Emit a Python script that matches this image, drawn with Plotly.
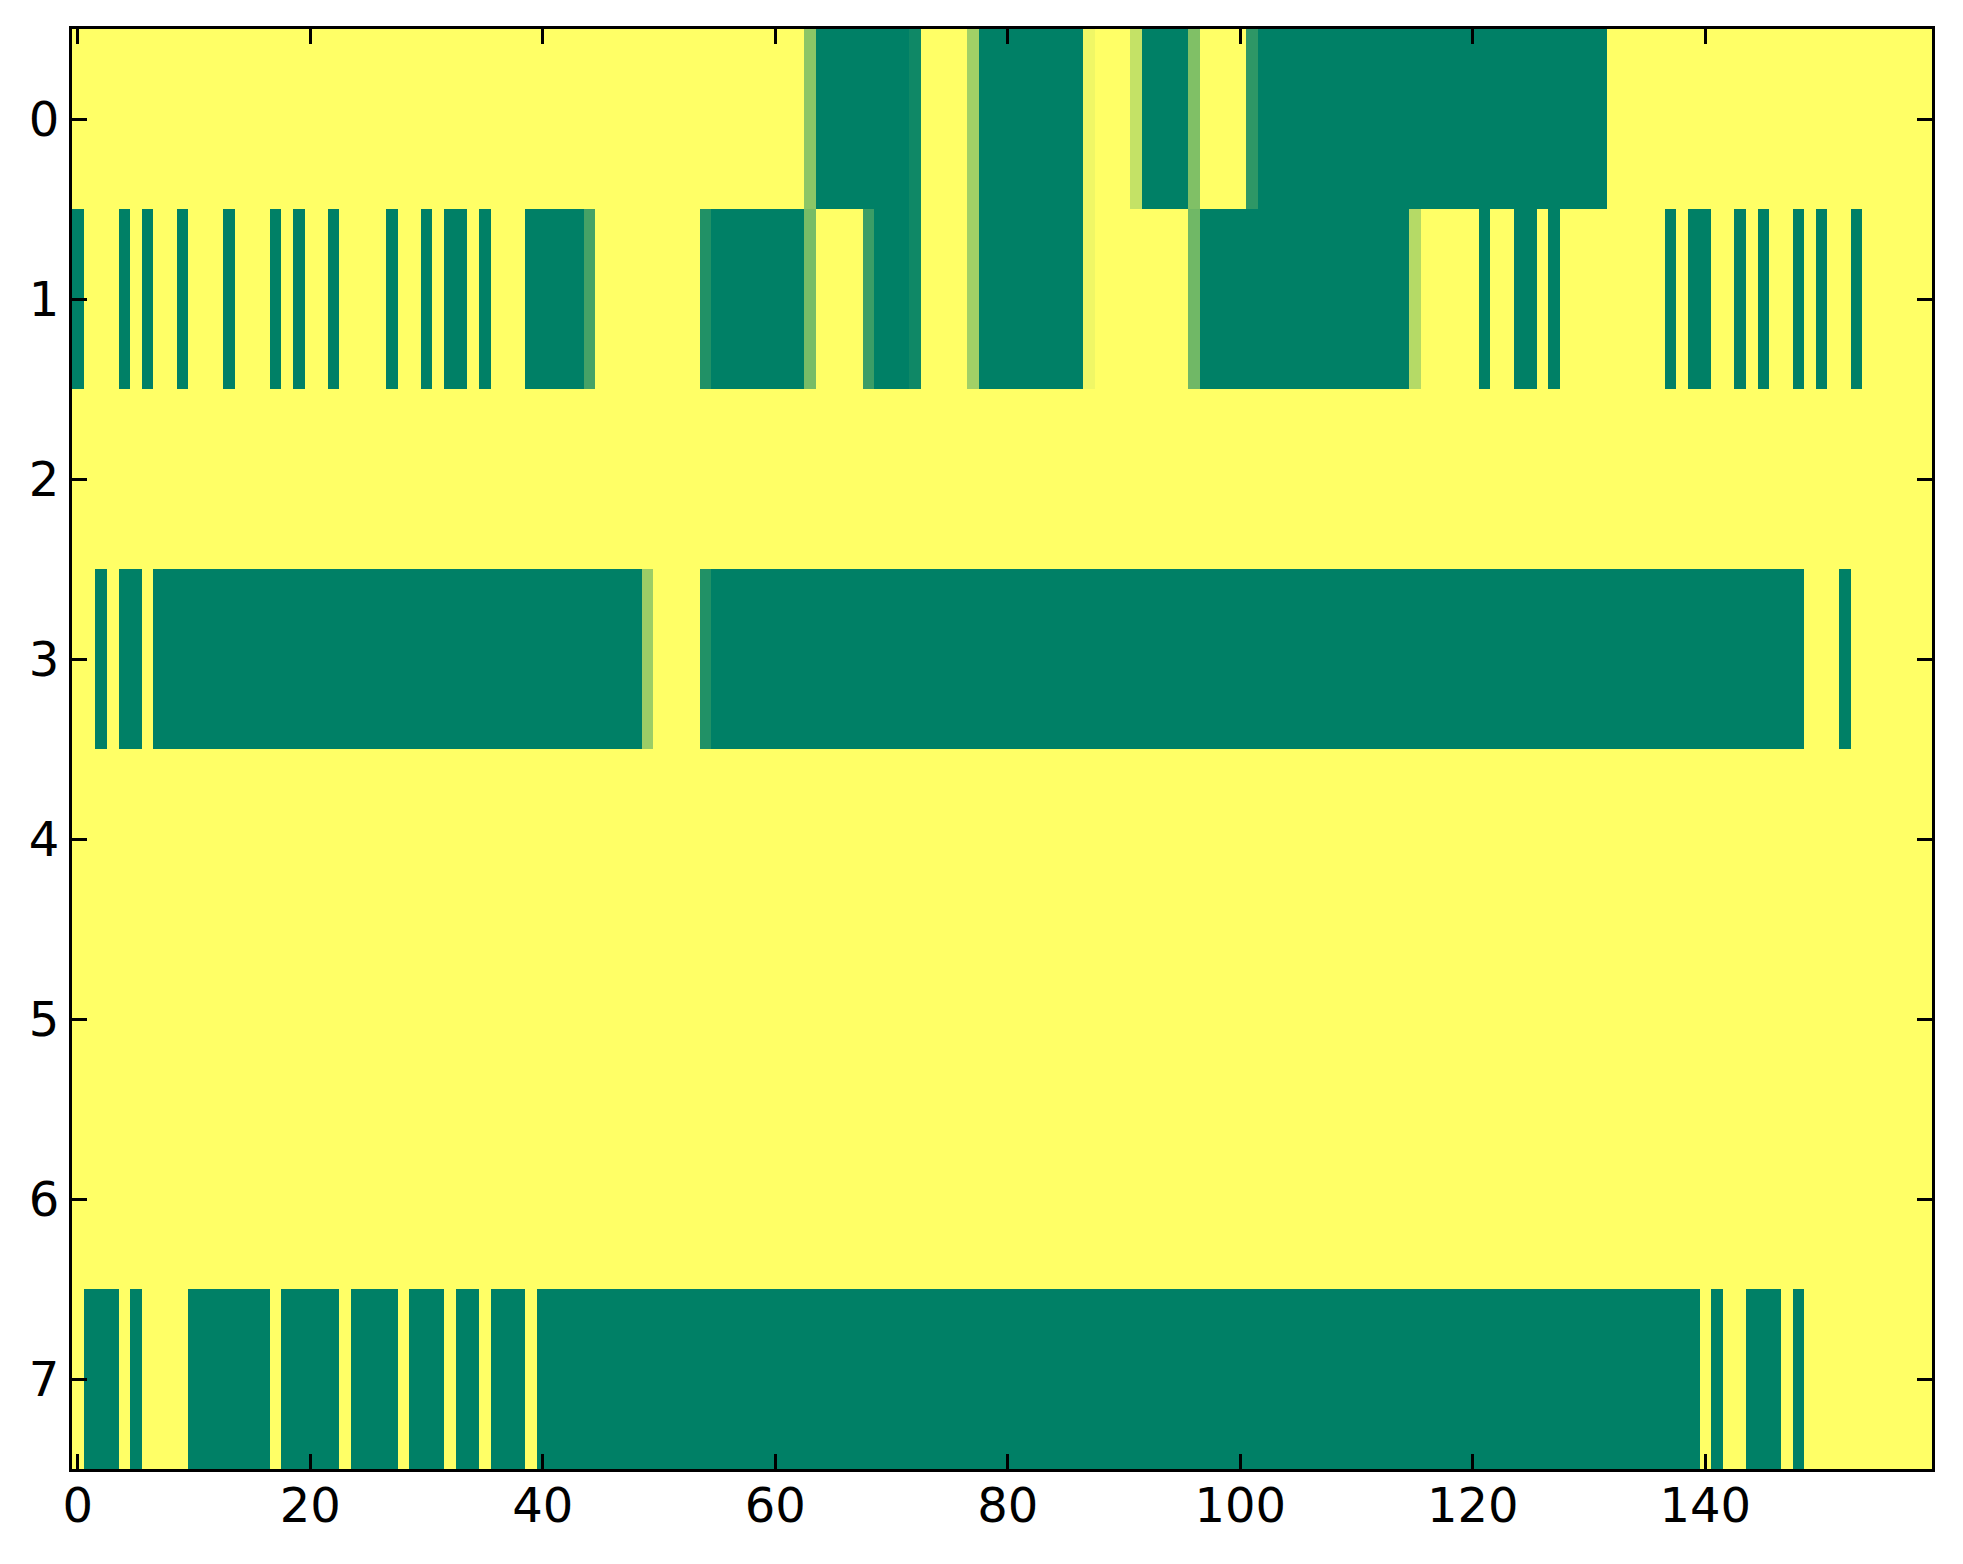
import numpy as np
import plotly.graph_objects as go

# linhas da matriz (8 x 160)
linha0 = [0, 0, 0, 0, 0, 0, 0, 0, 0, 0, 0, 0, 0, 0, 0, 0, 0, 0, 0, 0,
          0, 0, 0, 0, 0, 0, 0, 0, 0, 0, 0, 0, 0, 0, 0, 0, 0, 0, 0, 0,
          0, 0, 0, 0, 0, 0, 0, 0, 0, 0, 0, 0, 0, 0, 0, 0, 0, 0, 0, 0,
          0, 0, 0, 0.45, 1, 1, 1, 1, 1, 1, 1, 1, 0.94, 0, 0, 0, 0, 0.37, 1, 1,
          1, 1, 1, 1, 1, 1, 1, 0.06, 0, 0, 0, 0.23, 1, 1, 1, 1, 0.5, 0, 0, 0,
          0, 0.82, 1, 1, 1, 1, 1, 1, 1, 1, 1, 1, 1, 1, 1, 1, 1, 1, 1, 1,
          1, 1, 1, 1, 1, 1, 1, 1, 1, 1, 1, 1, 0, 0, 0, 0, 0, 0, 0, 0,
          0, 0, 0, 0, 0, 0, 0, 0, 0, 0, 0, 0, 0, 0, 0, 0, 0, 0, 0, 0]

linha1 = [1, 0, 0, 0, 1, 0, 1, 0, 0, 1, 0, 0, 0, 1, 0, 0, 0, 1, 0, 1,
          0, 0, 1, 0, 0, 0, 0, 1, 0, 0, 1, 0, 1, 1, 0, 1, 0, 0, 0, 1,
          1, 1, 1, 1, 0.73, 0, 0, 0, 0, 0, 0, 0, 0, 0, 0.87, 1, 1, 1, 1, 1,
          1, 1, 1, 0.53, 0, 0, 0, 0, 0.77, 1, 1, 1, 0.94, 0, 0, 0, 0, 0.37, 1, 1,
          1, 1, 1, 1, 1, 1, 1, 0.06, 0, 0, 0, 0, 0, 0, 0, 0, 0.56, 1, 1, 1,
          1, 1, 1, 1, 1, 1, 1, 1, 1, 1, 1, 1, 1, 1, 1, 0.29, 0, 0, 0, 0,
          0, 1, 0, 0, 1, 1, 0, 1, 0, 0, 0, 0, 0, 0, 0, 0, 0, 1, 0, 1,
          1, 0, 0, 1, 0, 1, 0, 0, 1, 0, 1, 0, 0, 1, 0, 0, 0, 0, 0, 0]

linha2 = [0, 0, 0, 0, 0, 0, 0, 0, 0, 0, 0, 0, 0, 0, 0, 0, 0, 0, 0, 0,
          0, 0, 0, 0, 0, 0, 0, 0, 0, 0, 0, 0, 0, 0, 0, 0, 0, 0, 0, 0,
          0, 0, 0, 0, 0, 0, 0, 0, 0, 0, 0, 0, 0, 0, 0, 0, 0, 0, 0, 0,
          0, 0, 0, 0, 0, 0, 0, 0, 0, 0, 0, 0, 0, 0, 0, 0, 0, 0, 0, 0,
          0, 0, 0, 0, 0, 0, 0, 0, 0, 0, 0, 0, 0, 0, 0, 0, 0, 0, 0, 0,
          0, 0, 0, 0, 0, 0, 0, 0, 0, 0, 0, 0, 0, 0, 0, 0, 0, 0, 0, 0,
          0, 0, 0, 0, 0, 0, 0, 0, 0, 0, 0, 0, 0, 0, 0, 0, 0, 0, 0, 0,
          0, 0, 0, 0, 0, 0, 0, 0, 0, 0, 0, 0, 0, 0, 0, 0, 0, 0, 0, 0]

linha3 = [0, 0, 1, 0, 1, 1, 0, 1, 1, 1, 1, 1, 1, 1, 1, 1, 1, 1, 1, 1,
          1, 1, 1, 1, 1, 1, 1, 1, 1, 1, 1, 1, 1, 1, 1, 1, 1, 1, 1, 1,
          1, 1, 1, 1, 1, 1, 1, 1, 1, 0.39, 0, 0, 0, 0, 0.87, 1, 1, 1, 1, 1,
          1, 1, 1, 1, 1, 1, 1, 1, 1, 1, 1, 1, 1, 1, 1, 1, 1, 1, 1, 1,
          1, 1, 1, 1, 1, 1, 1, 1, 1, 1, 1, 1, 1, 1, 1, 1, 1, 1, 1, 1,
          1, 1, 1, 1, 1, 1, 1, 1, 1, 1, 1, 1, 1, 1, 1, 1, 1, 1, 1, 1,
          1, 1, 1, 1, 1, 1, 1, 1, 1, 1, 1, 1, 1, 1, 1, 1, 1, 1, 1, 1,
          1, 1, 1, 1, 1, 1, 1, 1, 1, 0, 0, 0, 1, 0, 0, 0, 0, 0, 0, 0]

linha4 = [0, 0, 0, 0, 0, 0, 0, 0, 0, 0, 0, 0, 0, 0, 0, 0, 0, 0, 0, 0,
          0, 0, 0, 0, 0, 0, 0, 0, 0, 0, 0, 0, 0, 0, 0, 0, 0, 0, 0, 0,
          0, 0, 0, 0, 0, 0, 0, 0, 0, 0, 0, 0, 0, 0, 0, 0, 0, 0, 0, 0,
          0, 0, 0, 0, 0, 0, 0, 0, 0, 0, 0, 0, 0, 0, 0, 0, 0, 0, 0, 0,
          0, 0, 0, 0, 0, 0, 0, 0, 0, 0, 0, 0, 0, 0, 0, 0, 0, 0, 0, 0,
          0, 0, 0, 0, 0, 0, 0, 0, 0, 0, 0, 0, 0, 0, 0, 0, 0, 0, 0, 0,
          0, 0, 0, 0, 0, 0, 0, 0, 0, 0, 0, 0, 0, 0, 0, 0, 0, 0, 0, 0,
          0, 0, 0, 0, 0, 0, 0, 0, 0, 0, 0, 0, 0, 0, 0, 0, 0, 0, 0, 0]

linha5 = [0, 0, 0, 0, 0, 0, 0, 0, 0, 0, 0, 0, 0, 0, 0, 0, 0, 0, 0, 0,
          0, 0, 0, 0, 0, 0, 0, 0, 0, 0, 0, 0, 0, 0, 0, 0, 0, 0, 0, 0,
          0, 0, 0, 0, 0, 0, 0, 0, 0, 0, 0, 0, 0, 0, 0, 0, 0, 0, 0, 0,
          0, 0, 0, 0, 0, 0, 0, 0, 0, 0, 0, 0, 0, 0, 0, 0, 0, 0, 0, 0,
          0, 0, 0, 0, 0, 0, 0, 0, 0, 0, 0, 0, 0, 0, 0, 0, 0, 0, 0, 0,
          0, 0, 0, 0, 0, 0, 0, 0, 0, 0, 0, 0, 0, 0, 0, 0, 0, 0, 0, 0,
          0, 0, 0, 0, 0, 0, 0, 0, 0, 0, 0, 0, 0, 0, 0, 0, 0, 0, 0, 0,
          0, 0, 0, 0, 0, 0, 0, 0, 0, 0, 0, 0, 0, 0, 0, 0, 0, 0, 0, 0]

linha6 = [0, 0, 0, 0, 0, 0, 0, 0, 0, 0, 0, 0, 0, 0, 0, 0, 0, 0, 0, 0,
          0, 0, 0, 0, 0, 0, 0, 0, 0, 0, 0, 0, 0, 0, 0, 0, 0, 0, 0, 0,
          0, 0, 0, 0, 0, 0, 0, 0, 0, 0, 0, 0, 0, 0, 0, 0, 0, 0, 0, 0,
          0, 0, 0, 0, 0, 0, 0, 0, 0, 0, 0, 0, 0, 0, 0, 0, 0, 0, 0, 0,
          0, 0, 0, 0, 0, 0, 0, 0, 0, 0, 0, 0, 0, 0, 0, 0, 0, 0, 0, 0,
          0, 0, 0, 0, 0, 0, 0, 0, 0, 0, 0, 0, 0, 0, 0, 0, 0, 0, 0, 0,
          0, 0, 0, 0, 0, 0, 0, 0, 0, 0, 0, 0, 0, 0, 0, 0, 0, 0, 0, 0,
          0, 0, 0, 0, 0, 0, 0, 0, 0, 0, 0, 0, 0, 0, 0, 0, 0, 0, 0, 0]

linha7 = [0, 1, 1, 1, 0, 1, 0, 0, 0, 0, 1, 1, 1, 1, 1, 1, 1, 0, 1, 1,
          1, 1, 1, 0, 1, 1, 1, 1, 0, 1, 1, 1, 0, 1, 1, 0, 1, 1, 1, 0,
          1, 1, 1, 1, 1, 1, 1, 1, 1, 1, 1, 1, 1, 1, 1, 1, 1, 1, 1, 1,
          1, 1, 1, 1, 1, 1, 1, 1, 1, 1, 1, 1, 1, 1, 1, 1, 1, 1, 1, 1,
          1, 1, 1, 1, 1, 1, 1, 1, 1, 1, 1, 1, 1, 1, 1, 1, 1, 1, 1, 1,
          1, 1, 1, 1, 1, 1, 1, 1, 1, 1, 1, 1, 1, 1, 1, 1, 1, 1, 1, 1,
          1, 1, 1, 1, 1, 1, 1, 1, 1, 1, 1, 1, 1, 1, 1, 1, 1, 1, 1, 1,
          0, 1, 0, 0, 1, 1, 1, 0, 1, 0, 0, 0, 0, 0, 0, 0, 0, 0, 0, 0]

xticks = [0, 20, 40, 60, 80, 100, 120, 140]
yticks = [0, 1, 2, 3, 4, 5, 6, 7]

matriz = np.array([linha0, linha1, linha2, linha3, linha4, linha5, linha6, linha7])

# summer_r do matplotlib
summer_r = [[0, "rgb(255,255,102)"], [1, "rgb(0,128,102)"]]

fig = go.Figure(go.Heatmap(
    z=matriz,
    x=np.arange(matriz.shape[1]),
    y=np.arange(matriz.shape[0]),
    colorscale=summer_r, zmin=0, zmax=1,
    showscale=False, hoverongaps=False,
))

eixo = dict(
    showline=True, linecolor="black", linewidth=3, mirror="ticks",
    ticks="inside", ticklen=15, tickwidth=2.5, tickcolor="black",
    showgrid=False, zeroline=False,
    tickfont=dict(family="DejaVu Sans", size=48, color="black"),
)

fig.update_xaxes(range=[-0.5, matriz.shape[1] - 0.5], tickvals=xticks,
                 ticklabelstandoff=-8, **eixo)
fig.update_yaxes(range=[7.5, -0.5], tickvals=yticks, **eixo)

# a pagina tem margem de 8px no body
fig.update_layout(
    width=1963, height=1564,
    margin=dict(l=64, r=39, t=21, b=103),
    plot_bgcolor="white", paper_bgcolor="white",
)

fig.write_html("out.html")
